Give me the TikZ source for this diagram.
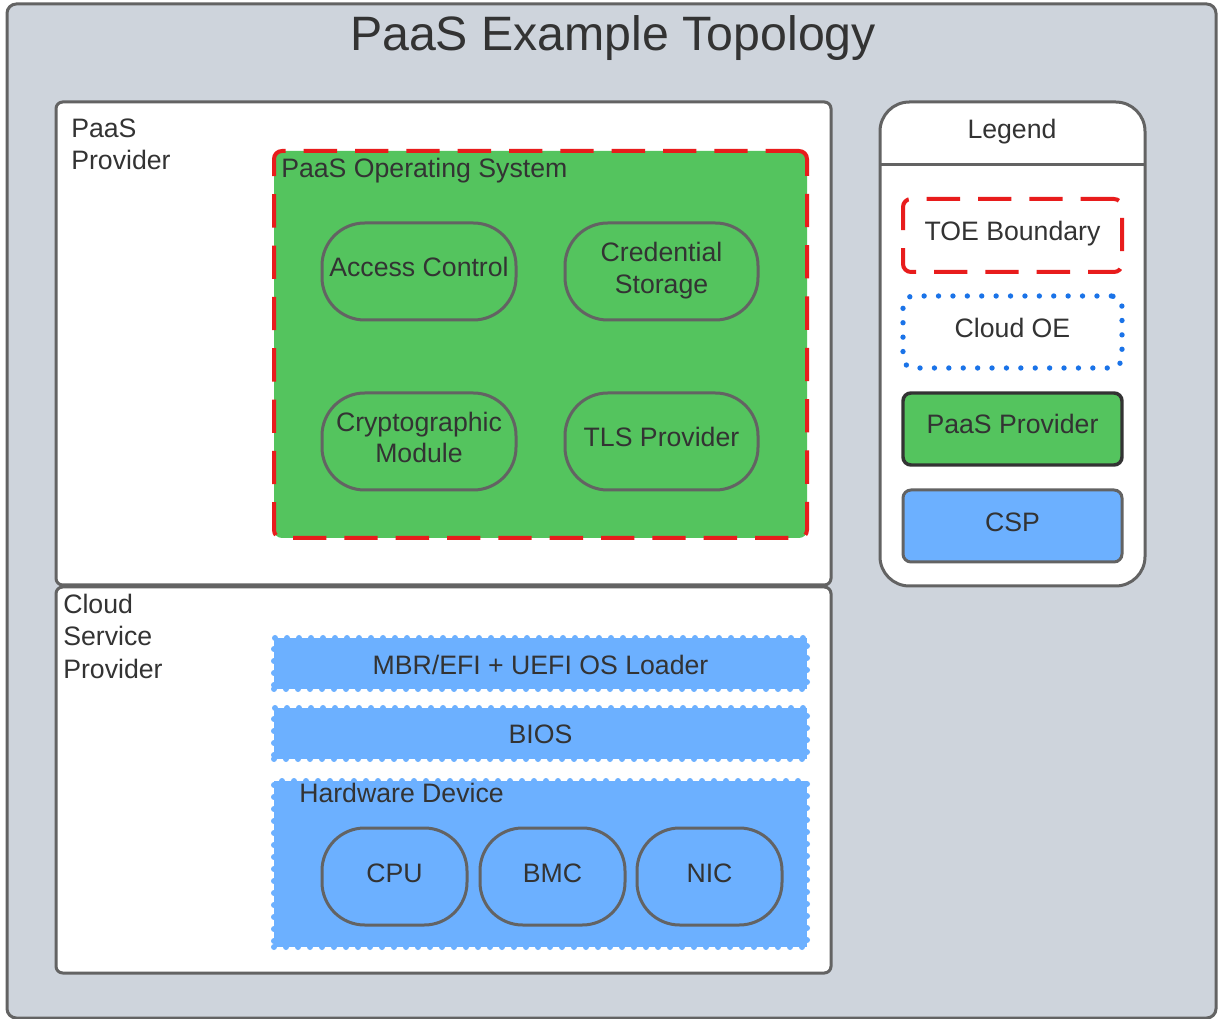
\documentclass[tikz,border=0pt]{standalone}
\usepackage{fontspec}
\setmainfont{Liberation Sans}
\usetikzlibrary{fit}
\definecolor{bggray}{HTML}{CED4DC}
\definecolor{edge}{HTML}{636363}
\definecolor{txt}{HTML}{333333}
\definecolor{paasgreen}{HTML}{54C45E}
\definecolor{cspblue}{HTML}{6CB0FF}
\definecolor{toered}{HTML}{E81C1C}
\definecolor{oeblue}{HTML}{1A73E8}
\tikzset{
  base/.style={inner sep=0pt, outer sep=0pt},
  frame/.style={base, draw=edge, line width=2.25pt, rounded corners=5pt},
  toe/.style={base, draw=toered, line width=3pt, dash pattern=on 25pt off 13.5pt, rounded corners=6pt},
  oe/.style={base, draw=oeblue, line width=4pt, line cap=round, dash pattern=on 0pt off 10.8pt, rounded corners=8pt},
  cloudbox/.style={base, fill=cspblue, draw=cspblue, line width=4.5pt, line cap=round, dash pattern=on 0pt off 9pt},
  pill/.style={base, draw=edge, line width=2.25pt, rounded corners=32pt},
  lbl/.style={inner sep=0pt, text=txt, font=\fontsize{20}{24}\selectfont, anchor=base west},
  clbl/.style={inner sep=0pt, text=txt, font=\fontsize{20}{24}\selectfont, anchor=base},
}
\begin{document}
\begin{tikzpicture}[x=0.75pt,y=-0.75pt]
\useasboundingbox (0,0) rectangle (1218,1019);
% outer frame
\node[frame, fill=bggray, rounded corners=7pt, fit={(7,4)(1216,1018)}] (outer) {};
\node[inner sep=0pt, text=txt, font=\fontsize{36.2}{43}\selectfont, anchor=base] (title) at (613,51) {PaaS Example Topology};

% PaaS provider region
\node[frame, fill=white, fit={(56,102)(831,585)}] (paas) {};
\node[lbl] (paaslbl1) at (71,138) {PaaS};
\node[lbl] (paaslbl2) at (71,170) {Provider};
\node[toe, fill=paasgreen, fit={(274,151)(807,538)}] (os) {};
\node[lbl] (oslbl) at (281,178) {PaaS Operating System};
\node[pill, fit={(322,223)(516,320)}] (ac) {};
\node[clbl] (actxt) at (419,277) {Access Control};
\node[pill, fit={(565,223)(758,320)}] (cs) {};
\node[clbl] (cstxt1) at (661.5,262) {Credential};
\node[clbl] (cstxt2) at (661.5,294) {Storage};
\node[pill, fit={(322,393)(516,490)}] (cm) {};
\node[clbl] (cmtxt1) at (419,432) {Cryptographic};
\node[clbl] (cmtxt2) at (419,463) {Module};
\node[pill, fit={(565,393)(758,490)}] (tls) {};
\node[clbl] (tlstxt) at (661.5,447) {TLS Provider};

% Cloud service provider region
\node[frame, fill=white, fit={(56,587)(831,973)}] (csp) {};
\node[lbl] (csplbl1) at (63,614) {Cloud};
\node[lbl] (csplbl2) at (63,646) {Service};
\node[lbl] (csplbl3) at (63,678) {Provider};
\node[cloudbox, fit={(274,638)(807,689)}] (mbr) {};
\node[clbl] (mbrtxt) at (540.5,675) {MBR/EFI + UEFI OS Loader};
\node[cloudbox, fit={(274,708)(807,759)}] (bios) {};
\node[clbl] (biostxt) at (540.5,744) {BIOS};
\node[cloudbox, fit={(274,781)(807,947)}] (hw) {};
\node[lbl] (hwlbl) at (299,802) {Hardware Device};
\node[pill, fill=cspblue, fit={(322,828)(467,925)}] (cpu) {};
\node[clbl] (cputxt) at (394.5,882) {CPU};
\node[pill, fill=cspblue, fit={(480,828)(625,925)}] (bmc) {};
\node[clbl] (bmctxt) at (552.5,882) {BMC};
\node[pill, fill=cspblue, fit={(637,828)(782,925)}] (nic) {};
\node[clbl] (nictxt) at (709.5,882) {NIC};

% Legend
\node[frame, fill=white, rounded corners=22pt, fit={(880,102)(1145,586)}] (legend) {};
\coordinate (hl) at (880,165);
\coordinate (hr) at (1145,165);
\draw[edge, line width=2.25pt] (hl) -- (hr);
\node[clbl] (legtitle) at (1012,139) {Legend};
\node[toe, fit={(903,199)(1122,272)}] (ltoe) {};
\node[clbl] (ltoetxt) at (1012.5,241) {TOE Boundary};
\node[oe, fit={(903,296)(1122,368)}] (loe) {};
\node[clbl] (loetxt) at (1012.5,338) {Cloud OE};
\node[base, fill=paasgreen, draw=txt, line width=2.6pt, rounded corners=6pt, fit={(903,393)(1122,465)}] (lpaas) {};
\node[clbl] (lpaastxt) at (1012.5,434) {PaaS Provider};
\node[frame, fill=cspblue, rounded corners=6pt, fit={(903,490)(1122,562)}] (lcsp) {};
\node[clbl] (lcsptxt) at (1012.5,532) {CSP};
\end{tikzpicture}
\end{document}
